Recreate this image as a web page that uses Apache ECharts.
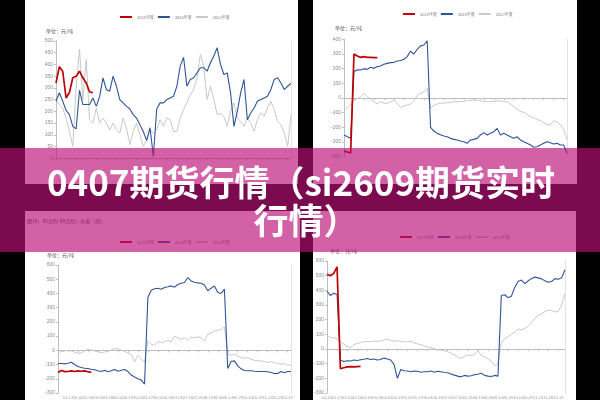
<!DOCTYPE html>
<html><head><meta charset="utf-8">
<style>html,body{margin:0;padding:0;background:#000;}#c{width:600px;height:400px;}</style>
<script src="https://cdn.jsdelivr.net/npm/echarts@6/dist/echarts.min.js"></script>
</head><body><div id="c"></div>
<script>
const dates = ['01-02','01-07','01-12','01-17','01-22','01-27','02-01','02-06','02-11','02-16','02-21','02-26','03-03','03-08','03-13','03-18','03-23','03-28','04-02','04-07','04-12','04-17','04-22','04-27','05-02','05-07','05-12','05-17','05-22','05-27','06-01','06-06','06-11','06-16','06-21','06-26','07-01','07-06','07-11','07-16','07-21','07-26','07-31','08-05','08-10','08-15','08-20','08-25','08-30','09-04','09-09','09-14','09-19','09-24','09-29','10-04','10-09','10-14','10-19','10-24','10-29','11-03','11-08','11-13','11-18','11-23','11-28','12-03','12-08','12-13','12-18','12-23'];
const seriesNames = ['2025年度','2024年度','2023年度'];
const unitText = '单位：元/吨';
const blTitle = '图16：05合约-09合约：价差（日）';
const titleLine1 = '0407期货行情（si2609期货实时';
const titleLine2 = '行情）';

// top-left
const tl2025 = [321,390,371,257,280,343,350,371,343,321,283,279];
const tl2024 = [243,279,243,204,186,136,125,290,229,229,229,257,221,264,343,293,286,350,307,250,236,221,210,186,171,143,114,75,130,8,210,236,236,250,257,264,307,393,430,307,336,343,364,386,386,371,407,436,471,400,357,364,279,136,200,279,336,164,193,214,243,250,257,264,293,336,343,321,293,307,319];
const tl2023 = [250,229,214,171,114,50,300,465,250,421,164,150,214,150,171,150,121,150,121,107,171,129,57,114,150,100,50,79,121,107,121,164,136,171,164,114,114,171,207,236,271,293,343,443,393,250,307,250,186,190,179,136,200,236,171,157,136,171,150,114,164,193,179,214,243,207,157,143,107,50,186];
// top-right
const tr2025 = [-362,-368,-375,300,286,277,282,277,277,275,275];
const tr2024 = [-252,-264,-275,180,193,191,200,195,209,202,214,218,230,236,241,243,252,255,264,282,320,300,332,355,361,390,-200,-225,-241,-250,-259,-264,-275,-282,-286,-293,-298,-309,-286,-282,-275,-252,-236,-252,-241,-230,-207,-252,-241,-252,-264,-275,-264,-286,-298,-309,-320,-336,-332,-320,-309,-298,-305,-314,-309,-320,-320,-377];
const tr2023 = [-82,-66,-48,-18,-5,9,32,9,-9,-25,-41,-25,-36,-36,-25,-14,-41,-64,-55,-48,-41,-18,18,32,41,66,-70,-50,-41,-36,-34,-32,-30,-25,-27,-25,-23,-18,-16,-14,-16,-18,-23,-25,-25,-23,-20,-20,-25,-25,-41,-59,-77,-91,-98,-111,-127,-136,-145,-155,-168,-182,-184,-155,-164,-182,-214,-286];
// bottom-left
const bl2025 = [-156,-142,-150,-149,-144,-149,-144,-147,-144,-151,-153];
const bl2024 = [-93,-93,-95,-91,-84,-100,-114,-121,-126,-128,-133,-137,-144,-149,-140,-151,-144,-135,-147,-140,-135,-149,-174,-188,-200,-209,-237,372,423,433,437,430,442,447,453,444,463,472,477,512,488,479,474,472,460,419,437,453,407,400,430,-128,-79,-74,-109,-130,-142,-144,-144,-147,-149,-149,-149,-151,-156,-163,-163,-149,-158,-149,-149];
const bl2023 = [-12,-10,-5,0,-5,-14,-21,-19,-5,7,2,-5,-9,-16,-12,-5,2,14,9,2,-9,-16,-28,-80,-35,-58,-86,65,42,37,60,53,60,70,60,100,88,77,88,70,93,88,95,88,65,112,123,135,140,147,165,-26,-35,-28,-40,-51,-56,-51,-63,-70,-74,-74,-79,-86,-79,-86,-93,-98,-93,-105,-105];
// bottom-right
const br2025 = [510,500,515,560,-135,-128,-122,-120,-122,-120,-118];
const br2024 = [395,365,380,372,-75,-85,-80,-82,-75,-78,-73,-70,-65,-72,-68,-75,-72,-62,-68,-75,-105,-200,-140,-148,-150,-155,-150,-152,-158,-155,-155,-150,-158,-152,-155,-160,-162,-170,-178,-185,-190,-180,-185,-182,-175,-172,-165,-180,-185,-188,-180,-185,365,370,350,360,420,460,470,445,465,480,490,485,478,465,455,460,480,475,485,540];
const br2023 = [94,78,78,67,50,35,15,10,30,38,43,50,50,50,55,52,55,62,68,58,55,55,52,50,48,52,42,35,28,22,15,8,2,-5,-8,-12,-18,-28,-40,-55,-65,-50,-40,-45,-38,-10,-45,-55,-65,-85,-115,-100,40,70,85,100,115,135,130,140,155,180,210,230,240,255,265,262,252,258,300,380];

const COLORS = {r:'#c00000', b:'#2f5597', g:'#c9c9c9'};
const option = {animation:false, grid:[], xAxis:[], yAxis:[], series:[], legend:[], graphic:[]};

function addChart(g, y, d25, d24, d23, legendPos, bottomLabels) {
  const gi = option.grid.length;
  option.grid.push({left:g[0], top:g[1], width:g[2], height:g[3]});
  const cats = dates.slice(0, d24.length);
  const xi = option.xAxis.length;
  option.xAxis.push({type:'category', gridIndex:gi, data:cats, boundaryGap:false,
    axisLine:{onZero:true, lineStyle:{color:'#bfbfbf', width:1}},
    axisTick:{show:true, interval:2, length:2, lineStyle:{color:'#bfbfbf'}},
    axisLabel:{show:false}, splitLine:{show:false}});
  if (bottomLabels) {
    option.xAxis.push({type:'category', gridIndex:gi, data:cats, boundaryGap:false, position:'bottom',
      axisLine:{show:false, onZero:false}, axisTick:{show:false},
      axisLabel:{show:true, interval:2, fontSize:4, color:'#9a9a9a', margin:3}, splitLine:{show:false}});
  }
  const yi = option.yAxis.length;
  option.yAxis.push({type:'value', gridIndex:gi, min:y[0], max:y[1], interval:y[2],
    axisLine:{show:true, lineStyle:{color:'#bfbfbf'}},
    axisTick:{show:true, length:2, lineStyle:{color:'#bfbfbf'}},
    axisLabel:{fontSize:5, color:'#8c8c8c', margin:3}, splitLine:{show:false}});
  option.yAxis.push({type:'value', gridIndex:gi, min:y[0], max:y[1], interval:y[2], position:'right',
    axisLine:{show:true, lineStyle:{color:'#e3e3e3'}}, axisTick:{show:false}, axisLabel:{show:false}, splitLine:{show:false}});
  const mk = (name, data, color, w) => ({type:'line', name, data, xAxisIndex:xi, yAxisIndex:yi,
    symbol:'none', showSymbol:false, lineStyle:{color, width:w}, itemStyle:{color}});
  option.series.push(mk(seriesNames[2], d23, COLORS.g, 1));
  option.series.push(mk(seriesNames[1], d24, COLORS.b, 1.1));
  option.series.push(mk(seriesNames[0], d25, COLORS.r, 1.7));
  option.legend.push({left:legendPos[0], top:legendPos[1], data:seriesNames, icon:'rect',
    itemWidth:12, itemHeight:2, itemGap:4, selectedMode:false, padding:0,
    textStyle:{fontSize:4, color:'#7f7f7f', fontFamily:'"Noto Sans CJK SC"'}});
}

addChart([56,41,235,117.2], [0,500,50], tl2025, tl2024, tl2023, [120,15], false);
addChart([344,39.3,223,117.4], [-400,400,100], tr2025, tr2024, tr2023, [403,12], false);
addChart([58,265,233,129], [-300,600,100], bl2025, bl2024, bl2023, [120,240], true);
addChart([327,261,238,134.7], [-300,600,100], br2025, br2024, br2023, [400,235], true);

const cjk = '"Noto Sans CJK SC"';
option.graphic = [
  {type:'rect', z:-1, shape:{x:25,y:0,width:273,height:184}, style:{fill:'#fff'}},
  {type:'rect', z:-1, shape:{x:313,y:0,width:264,height:184}, style:{fill:'#fff'}},
  {type:'rect', z:-1, shape:{x:25,y:211,width:275,height:189}, style:{fill:'#fff'}},
  {type:'rect', z:-1, shape:{x:313,y:211,width:263,height:189}, style:{fill:'#fff'}},
  {type:'text', z:5, style:{text:unitText, x:46, y:31, font:'5px '+cjk, fill:'#595959', verticalAlign:'middle'}},
  {type:'text', z:5, style:{text:unitText, x:335, y:28, font:'5px '+cjk, fill:'#595959', verticalAlign:'middle'}},
  {type:'text', z:5, style:{text:unitText, x:47, y:255, font:'5px '+cjk, fill:'#595959', verticalAlign:'middle'}},
  {type:'text', z:5, style:{text:unitText, x:330, y:251, font:'5px '+cjk, fill:'#595959', verticalAlign:'middle'}},
  {type:'text', z:5, style:{text:blTitle, x:27, y:221, font:'5px '+cjk, fill:'#404040', verticalAlign:'middle'}},
  {type:'rect', z:100, shape:{x:0,y:148,width:600,height:104}, style:{fill:'rgba(186,15,120,0.66)'}},
  {type:'text', z:101, style:{text:titleLine1, x:301, y:183, align:'center', verticalAlign:'middle',
    font:'bold 35px '+cjk, fill:'#ffffff', shadowColor:'rgba(60,0,30,0.5)', shadowBlur:3, shadowOffsetY:1}},
  {type:'text', z:101, style:{text:titleLine2, x:306, y:221, align:'center', verticalAlign:'middle',
    font:'bold 35px '+cjk, fill:'#ffffff', shadowColor:'rgba(60,0,30,0.5)', shadowBlur:3, shadowOffsetY:1}}
];

const chart = echarts.init(document.getElementById('c'), null, {renderer:'canvas'});
chart.setOption(option);
</script>
</body></html>
